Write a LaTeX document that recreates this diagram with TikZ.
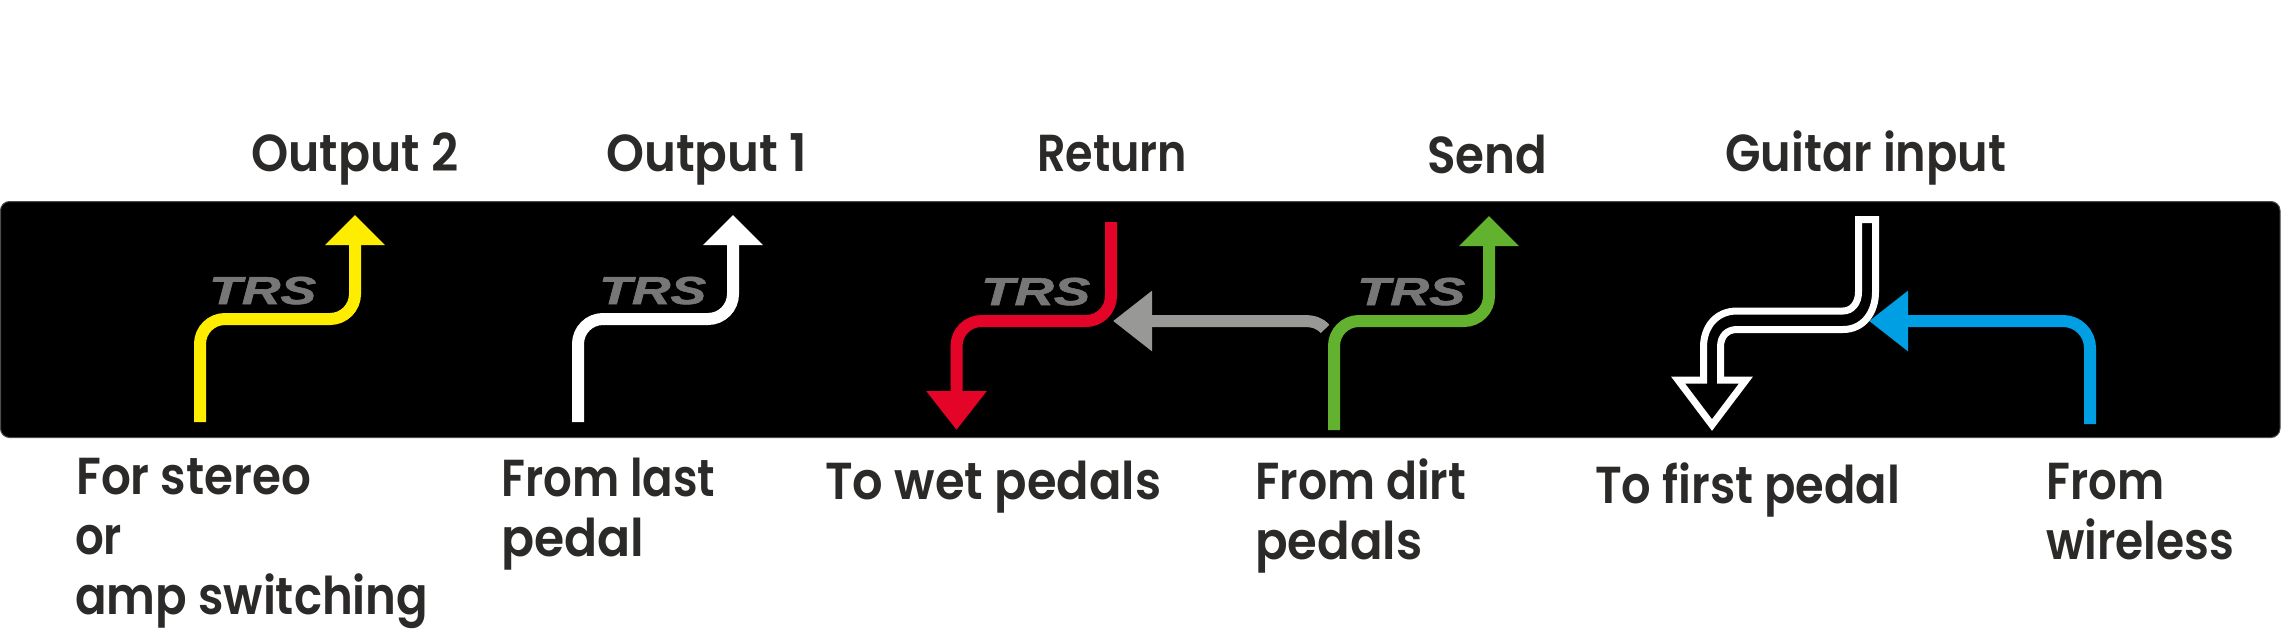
\documentclass[tikz,border=0pt]{standalone}
\usepackage{fontspec}
\usepackage{graphicx}
\setmainfont{Poppins}[UprightFont={* SemiBold}]
\newfontfamily\trsfont{Liberation Sans}[UprightFont={* Bold Italic},FakeBold=1.5]
\usetikzlibrary{arrows.meta}
\definecolor{ink}{HTML}{2B2A29}
\definecolor{trsgray}{HTML}{777777}
\definecolor{cyellow}{HTML}{FFED00}
\definecolor{cred}{HTML}{E30427}
\definecolor{cgreen}{HTML}{63B22F}
\definecolor{cblue}{HTML}{009FE3}
\definecolor{cgray}{HTML}{989897}
\newsavebox{\fitbox}
\newcommand{\fitw}[2]{\sbox{\fitbox}{#2}\pgfmathsetmacro{\fitsx}{#1/(\wd\fitbox/1pt)}\scalebox{\fitsx}[1]{\usebox{\fitbox}}}
\tikzset{
  lab/.style={anchor=base west,inner sep=0pt,text=ink,font=\fontsize{52}{52}\selectfont},
  trs/.style={anchor=base west,inner sep=0pt,text=trsgray,font=\fontsize{39}{39}\selectfont\trsfont},
  wire/.style={line width=12pt,rounded corners=25pt},
  tipup/.style={-{Triangle[length=30pt,width=58pt]}},
  tipdn/.style={-{Triangle[length=39pt,width=58pt]}},
  tiplf/.style={-{Triangle[length=39pt,width=58pt]}}
}
\begin{document}
\begin{tikzpicture}[x=1pt,y=-1pt]
\useasboundingbox (0,0) rectangle (2281,640);
\fill[white] (0,0) rectangle (2281,640);
\draw[fill=black,draw=black!70,line width=1pt,rounded corners=9pt] (0.5,201.5) rectangle (2280,437.5);

% labels above
\node[lab] (o2) at (251,171) {\fitw{207}{Output 2}};
\node[lab] (o1) at (606,171) {\fitw{201}{Output 1}};
\node[lab] (ret) at (1037,171) {\fitw{150}{Return}};
\node[lab] (snd) at (1427,173) {\fitw{120}{Send}};
\node[lab] (gi) at (1725,171) {\fitw{281}{Guitar input}};
% labels below
\node[lab] (l1) at (76,494) {\fitw{235}{For stereo}};
\node[lab] (l2) at (75,554) {\fitw{47}{or}};
\node[lab] (l3) at (75,614) {\fitw{353}{amp switching}};
\node[lab] (l4) at (501,496) {\fitw{214}{From last}};
\node[lab] (l5) at (501,556) {\fitw{143}{pedal}};
\node[lab] (l6) at (825,499) {\fitw{336}{To wet pedals}};
\node[lab] (l7) at (1255,499) {\fitw{211}{From dirt}};
\node[lab] (l8) at (1255,559) {\fitw{167}{pedals}};
\node[lab] (l9) at (1595,503) {\fitw{305}{To first pedal}};
\node[lab] (l10) at (2046,499) {\fitw{118}{From}};
\node[lab] (l11) at (2046,559) {\fitw{188}{wireless}};
% TRS
\node[trs] (t1) at (209,304) {\fitw{107}{TRS}};
\node[trs] (t2) at (599,304) {\fitw{107}{TRS}};
\node[trs] (t3) at (981,305) {\fitw{109}{TRS}};
\node[trs] (t4) at (1357,305) {\fitw{108}{TRS}};

% coordinates
\coordinate (ya) at (200,422); \coordinate (yb) at (200,319); \coordinate (yc) at (355,319); \coordinate (yd) at (355,215);
\coordinate (wa) at (578,422); \coordinate (wb) at (578,319); \coordinate (wc) at (733,319); \coordinate (wd) at (733,215);
\coordinate (ra) at (1111,222); \coordinate (rb) at (1111,321); \coordinate (rc) at (956.5,321); \coordinate (rd) at (956.5,430);
\coordinate (ga) at (1334,430); \coordinate (gb) at (1334,321); \coordinate (gc) at (1489,321); \coordinate (gd) at (1489,216);
\coordinate (sa) at (1325,329); \coordinate (sb) at (1304,321); \coordinate (sc) at (1113,321);
\coordinate (ba) at (2090,424); \coordinate (bb) at (2090,321); \coordinate (bc) at (1869,321);

% connectors
\draw[wire,cyellow,tipup] (ya) -- (yb) -- (yc) -- (yd);
\draw[wire,white,tipup] (wa) -- (wb) -- (wc) -- (wd);
\draw[wire,cred,tipdn] (ra) -- (rb) -- (rc) -- (rd);
\draw[line width=12pt,cgray,tiplf] (sa) .. controls (1320,323) and (1313,321) .. (sb) -- (sc);
\draw[wire,cgreen,tipup] (ga) -- (gb) -- (gc) -- (gd);
\draw[wire,cblue,tiplf,rounded corners=27pt] (ba) -- (bb) -- (bc);

% outlined guitar arrow
\draw[white,line width=7pt,miter limit=10]
  (1858.5,219.5) -- (1858.5,292)
  .. controls (1858.5,303) and (1852,311) .. (1843,311)
  -- (1737,311)
  .. controls (1716,311) and (1703.5,327) .. (1703.5,347)
  -- (1703.5,380) -- (1678,380) -- (1712,425) -- (1746,380) -- (1720.5,380)
  -- (1720.5,347)
  .. controls (1720.5,336) and (1727,329.5) .. (1737,329.5)
  -- (1843,329.5)
  .. controls (1863,329.5) and (1875.5,313) .. (1875.5,292)
  -- (1875.5,219.5) -- cycle;
\end{tikzpicture}
\end{document}
